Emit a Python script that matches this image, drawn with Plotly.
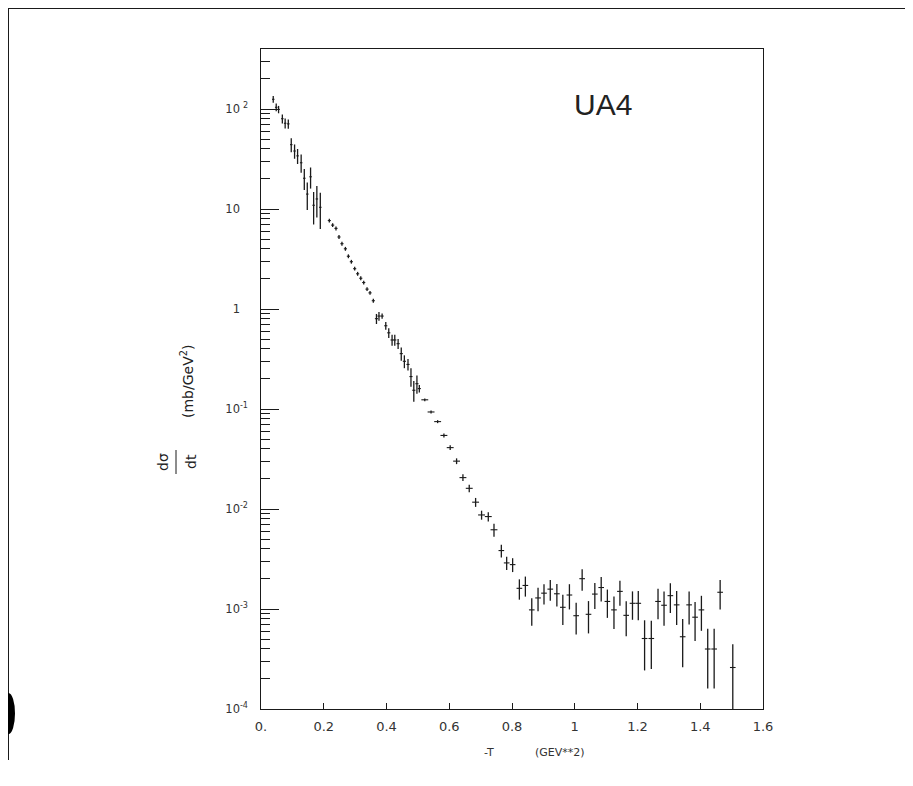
import plotly.graph_objects as go

# -t (GeV^2)
t = [0.039, 0.0485, 0.056, 0.068, 0.077, 0.087, 0.0964, 0.107, 0.1166, 0.128,
     0.138, 0.1475, 0.158, 0.1677, 0.178, 0.189,
     0.2178, 0.2284, 0.239, 0.2486, 0.258, 0.269, 0.2785, 0.288, 0.2986, 0.308,
     0.318, 0.3274, 0.338, 0.3475, 0.358,
     0.368, 0.376, 0.386, 0.3977, 0.4072, 0.4178, 0.4264, 0.437, 0.447, 0.457,
     0.4685, 0.478, 0.487, 0.497, 0.5046,
     0.522, 0.542, 0.563, 0.583, 0.603, 0.6234, 0.6436, 0.6637, 0.684, 0.703,
     0.7244, 0.7426, 0.766, 0.783, 0.802, 0.8235, 0.8426, 0.863, 0.883, 0.902,
     0.922, 0.943, 0.962, 0.983, 1.0045, 1.0236, 1.0438, 1.064, 1.0843, 1.104,
     1.125, 1.144, 1.164, 1.184, 1.2025, 1.2226, 1.244, 1.2654, 1.2846, 1.3047,
     1.3248, 1.344, 1.3645, 1.3835, 1.4037, 1.4238, 1.4443, 1.4634, 1.5037]

# d sigma / dt (mb/GeV^2)
dsig = [125, 104, 99, 80, 72, 71, 44, 38, 34, 29,
        20.3, 14.1, 21, 10.9, 12.6, 10.4,
        7.66, 6.9, 6.4, 5.25, 4.5, 4.0, 3.37, 2.97, 2.53, 2.25,
        2.03, 1.84, 1.58, 1.45, 1.21,
        0.80, 0.85, 0.85, 0.68, 0.578, 0.49, 0.49, 0.45, 0.358, 0.30,
        0.279, 0.211, 0.154, 0.179, 0.160,
        0.1236, 0.0934, 0.0748, 0.0544, 0.0411, 0.0301, 0.0206, 0.0161, 0.0117, 0.00872,
        0.0084, 0.0062, 0.00384, 0.00289, 0.00278, 0.00161, 0.00172, 0.00098, 0.00129, 0.00144,
        0.00158, 0.00142, 0.00104, 0.00138, 0.000857, 0.00201, 0.000885, 0.00141, 0.00164, 0.00119,
        0.00098, 0.0015, 0.000864, 0.00114, 0.00114, 0.000507, 0.000507, 0.00119, 0.00109, 0.00136,
        0.0011, 0.000528, 0.0011, 0.000828, 0.00098, 0.000398, 0.000398, 0.00147, 0.00026]

# vertical error bars (mb/GeV^2)
dsig_err = [9.6, 9.2, 8.4, 8.2, 8.3, 7.6, 7.0, 6.2, 5.8, 6.0,
            4.8, 4.3, 5.0, 3.9, 4.4, 4.1,
            0.34, 0.31, 0.29, 0.24, 0.2, 0.18, 0.15, 0.13, 0.11, 0.10,
            0.09, 0.08, 0.07, 0.065, 0.055,
            0.092, 0.085, 0.05, 0.06, 0.064, 0.062, 0.062, 0.052, 0.054, 0.044,
            0.037, 0.044, 0.036, 0.037, 0.014,
            0.004, 0.003, 0.0026, 0.0025, 0.0023, 0.002, 0.0016, 0.0014, 0.0012, 0.0009,
            0.0009, 0.00093, 0.00056, 0.00044, 0.00044, 0.00037, 0.00039, 0.0003, 0.00034, 0.00033,
            0.00037, 0.00036, 0.00035, 0.00039, 0.0003, 0.00049, 0.000315, 0.00041, 0.00045, 0.000375,
            0.00035, 0.00042, 0.00033, 0.00036, 0.00037, 0.000264, 0.000256, 0.0004, 0.00041, 0.00045,
            0.00041, 0.000267, 0.0004, 0.00035, 0.000375, 0.000238, 0.000238, 0.00048, 0.000185]

# horizontal error bars (GeV^2)
t_err = [0.004] * 16 + [0.005] * 30 + [0.011] * 12 + [0.009] * 37

x_tickvals = [0, 0.2, 0.4, 0.6, 0.8, 1.0, 1.2, 1.4, 1.6]
x_ticktext = ["0.", "0.2", "0.4", "0.6", "0.8", "1", "1.2", "1.4", "1.6"]

y_decades = [1e-4, 1e-3, 1e-2, 1e-1, 1, 10, 100]
HID = "<span style='color:rgba(0,0,0,0)'>-1</span>"
HIDM = "<span style='color:rgba(0,0,0,0)'>-</span>"
y_ticktext = ["10<sup>-4</sup>", "10<sup>-3</sup>", "10<sup>-2</sup>", "10<sup>-1</sup>",
              "1<sup>" + HID + "</sup>", "10<sup>" + HID + "</sup>", "10<sup>" + HIDM + "2</sup>"]
y_minor = [m * d for d in [1e-4, 1e-3, 1e-2, 1e-1, 1, 10, 100] for m in range(2, 10)
           if m * d < 398]

INK = "#1a1a1a"

fig = go.Figure()
fig.add_trace(go.Scatter(
    x=t, y=dsig, mode="markers",
    marker=dict(size=1, color="rgba(0,0,0,0)"),
    error_y=dict(type="data", array=dsig_err, color=INK, thickness=1.3, width=0),
    error_x=dict(type="data", array=t_err, color=INK, thickness=1.1, width=0),
    showlegend=False, hoverinfo="skip",
))

fig.update_layout(
    width=897, height=770,
    margin=dict(l=253, r=142, t=41, b=69),
    paper_bgcolor="white", plot_bgcolor="white",
    font=dict(family="DejaVu Sans", color="#333333"),
    xaxis=dict(range=[0, 1.6], tickvals=x_tickvals, ticktext=x_ticktext,
               ticks="inside", ticklen=6, tickcolor=INK, tickwidth=1,
               ticklabelstandoff=5,
               showline=True, mirror=True, linecolor=INK, linewidth=1,
               showgrid=False, zeroline=False,
               tickfont=dict(size=13, color="#333333")),
    yaxis=dict(type="log", range=[-4, 2.6], tickvals=y_minor,
               ticks="inside", ticklen=9, tickcolor=INK, tickwidth=1,
               showticklabels=False,
               showline=True, mirror=True, linecolor=INK, linewidth=1,
               showgrid=False, zeroline=False),
    yaxis2=dict(type="log", range=[-4, 2.6], overlaying="y", side="left",
                tickvals=y_decades, ticktext=y_ticktext,
                ticks="inside", ticklen=18, tickcolor=INK, tickwidth=1,
                ticklabelstandoff=12,
                showline=False, showgrid=False, zeroline=False,
                tickfont=dict(size=11.5, color="#333333")),
)
# invisible trace to activate yaxis2
fig.add_trace(go.Scatter(x=[None], y=[None], yaxis="y2", showlegend=False))

W, H = 502.0, 660.0
def px(x):
    return (x - 261.0) / W
def py(y):
    return (709.0 - y) / H

annots = [
    dict(x=px(603), y=py(104), text="UA4", font=dict(size=30, color="#222222",
         family="Liberation Sans")),
    dict(x=px(489), y=py(752), text="-T", font=dict(size=11, color="#333333")),
    dict(x=px(560), y=py(752), text="(GEV**2)", font=dict(size=11, color="#333333")),
    dict(x=px(163), y=py(462), text="dσ", textangle=-90, font=dict(size=14, color="#222222")),
    dict(x=px(191), y=py(462), text="dt", textangle=-90, font=dict(size=14, color="#222222")),
    dict(x=px(187), y=py(382), text="(mb/GeV<sup>2</sup>)", textangle=-90,
         font=dict(size=14, color="#222222")),
]
for a in annots:
    a.update(xref="paper", yref="paper", showarrow=False, xanchor="center", yanchor="middle")
    fig.add_annotation(**a)

shapes = [
    dict(type="line", x0=px(176), x1=px(176), y0=py(450), y1=py(474), line=dict(color=INK, width=1)),
    dict(type="line", x0=px(8), x1=px(905), y0=py(8.5), y1=py(8.5), line=dict(color=INK, width=1)),
    dict(type="line", x0=px(8.5), x1=px(8.5), y0=py(8), y1=py(760), line=dict(color=INK, width=1)),
    dict(type="circle", x0=px(2), x1=px(15), y0=py(693), y1=py(734),
         fillcolor="black", line=dict(color="black", width=0)),
]
for s in shapes:
    s.update(xref="paper", yref="paper")
    fig.add_shape(**s)

fig.write_html("out.html")
